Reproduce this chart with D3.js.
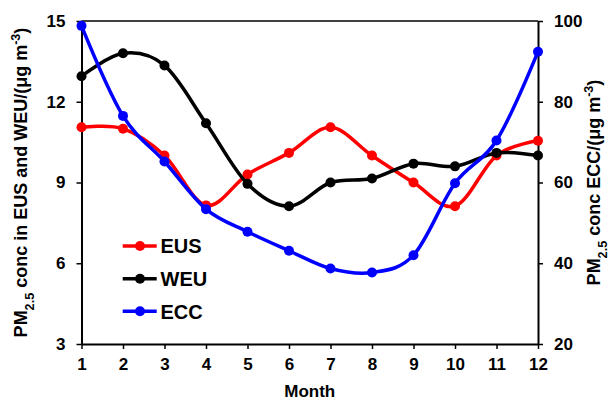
<!DOCTYPE html>
<html>
<head>
<meta charset="utf-8">
<script src="https://cdn.jsdelivr.net/npm/d3@7/dist/d3.min.js"></script>
<style>
  html, body { margin: 0; padding: 0; background: #fff; }
  svg { display: block; }
  text { font-family: "Liberation Sans", Arial, sans-serif; font-weight: bold; fill: #000; }
</style>
</head>
<body>
<svg id="chart" width="611" height="401"></svg>
<script>
const months = [1, 2, 3, 4, 5, 6, 7, 8, 9, 10, 11, 12];
const eus = [11.05, 11.0, 10.0, 8.15, 9.3, 10.1, 11.05, 10.0, 9.0, 8.12, 10.0, 10.55];
const weu = [12.95, 13.8, 13.35, 11.2, 8.95, 8.12, 9.0, 9.15, 9.7, 9.6, 10.1, 10.0];
const ecc = [98.8, 76.5, 65.2, 53.4, 47.8, 43.1, 38.7, 37.7, 42.0, 59.8, 70.4, 92.4];
const leftTicks = [3, 6, 9, 12, 15];
const rightTicks = [20, 40, 60, 80, 100];
const seriesNames = ["EUS", "WEU", "ECC"];
const seriesColors = ["#ff0000", "#000000", "#0000ff"];

const svg = d3.select("#chart");
const pLeft = 81.5, pRight = 538, pTop = 21, pBottom = 344;

const x = d3.scaleLinear().domain([1, 12]).range([pLeft, pRight]);
const yL = d3.scaleLinear().domain([3, 15]).range([pBottom, pTop]);
const yR = d3.scaleLinear().domain([20, 100]).range([pBottom, pTop]);

// top frame
svg.append("line").attr("x1", pLeft).attr("x2", pRight).attr("y1", pTop).attr("y2", pTop)
  .attr("stroke", "#000").attr("stroke-width", 1.5);

function styleAxis(g) {
  g.select(".domain").attr("stroke", "#000").attr("stroke-width", 2);
  g.selectAll(".tick line").attr("stroke", "#000").attr("stroke-width", 1.5);
  g.selectAll(".tick text").style("font-size", "17px").style("font-weight", "bold")
    .style("font-family", '"Liberation Sans", Arial, sans-serif').attr("fill", "#000");
}

svg.append("g").attr("transform", `translate(0,${pBottom})`)
  .call(d3.axisBottom(x).tickValues(months).tickFormat(d3.format("d")).tickSize(5).tickSizeOuter(0).tickPadding(9))
  .call(styleAxis);
svg.append("g").attr("transform", `translate(${pLeft},0)`)
  .call(d3.axisLeft(yL).tickValues(leftTicks).tickSize(5).tickSizeOuter(0).tickPadding(11))
  .call(styleAxis);
svg.append("g").attr("transform", `translate(${pRight},0)`)
  .call(d3.axisRight(yR).tickValues(rightTicks).tickSize(5).tickSizeOuter(0).tickPadding(11))
  .call(styleAxis);

// series
const curve = d3.curveCardinal.tension(0);
const data = [eus, weu, ecc];
const scales = [yL, yL, yR];
data.forEach((vals, i) => {
  const pts = months.map((m, j) => [x(m), scales[i](vals[j])]);
  svg.append("path").attr("d", d3.line().curve(curve)(pts))
    .attr("fill", "none").attr("stroke", seriesColors[i]).attr("stroke-width", 3.5);
  svg.append("g").selectAll("circle").data(pts).join("circle")
    .attr("cx", d => d[0]).attr("cy", d => d[1]).attr("r", 5)
    .attr("fill", seriesColors[i]);
});

// legend
const legY = [246, 278.7, 311.3];
seriesNames.forEach((name, i) => {
  const g = svg.append("g");
  g.append("line").attr("x1", 122.7).attr("x2", 156.7).attr("y1", legY[i]).attr("y2", legY[i])
    .attr("stroke", seriesColors[i]).attr("stroke-width", 3.5);
  g.append("circle").attr("cx", 140).attr("cy", legY[i]).attr("r", 5).attr("fill", seriesColors[i]);
  g.append("text").attr("x", 160.5).attr("y", legY[i]).attr("dy", "0.36em")
    .style("font-size", "20px").text(name);
});

// axis titles
svg.append("text").attr("x", (pLeft + pRight) / 2).attr("y", 397)
  .attr("text-anchor", "middle").style("font-size", "17px").text("Month");

function unitTitle(t, pre) {
  t.append("tspan").text("PM");
  t.append("tspan").attr("baseline-shift", "sub").style("font-size", "70%").text("2.5");
  t.append("tspan").text(pre + "/(μg m");
  t.append("tspan").attr("baseline-shift", "super").style("font-size", "70%").text("-3");
  t.append("tspan").text(")");
}
const lt = svg.append("text").attr("transform", `translate(27,${(pTop + pBottom) / 2}) rotate(-90)`)
  .attr("text-anchor", "middle").style("font-size", "18px");
unitTitle(lt, " conc in EUS and WEU");
const rt = svg.append("text").attr("transform", `translate(600,${(pTop + pBottom) / 2}) rotate(-90)`)
  .attr("text-anchor", "middle").style("font-size", "18px");
unitTitle(rt, " conc ECC");
</script>
</body>
</html>
